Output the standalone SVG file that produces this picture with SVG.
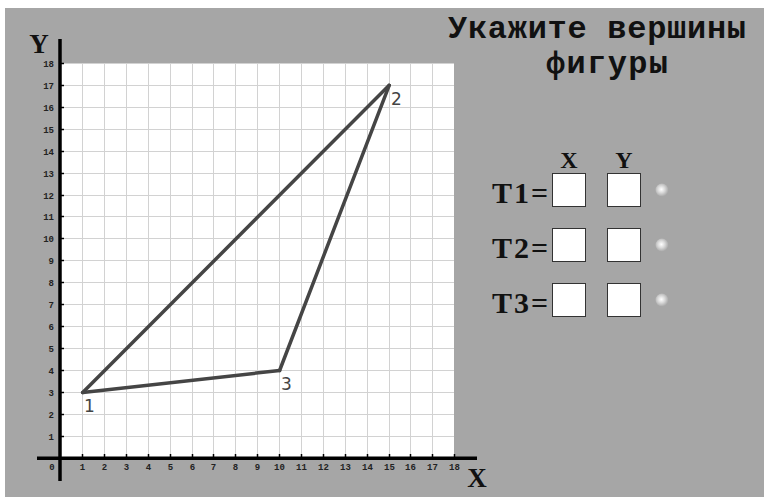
<svg xmlns="http://www.w3.org/2000/svg" width="764" height="497" viewBox="0 0 764 497">
<style>
.grid line{stroke:#d2d2d2;stroke-width:1}
.axis{stroke:#000;stroke-width:3.5;stroke-linecap:butt}
.tick{stroke:#000;stroke-width:1.5}
.tl{font-family:"Liberation Mono","Courier New",monospace;font-size:9px;font-weight:bold;fill:#222}
.tly{text-anchor:end}
.tlx{text-anchor:middle}
.big{font-family:"Liberation Serif","Times New Roman",serif;font-weight:bold;fill:#111}
.mono{font-family:"Liberation Mono","Courier New",monospace;font-weight:bold;fill:#111}
.edge{stroke:#454545;stroke-width:3.5;fill:none;stroke-linecap:round;stroke-linejoin:round}
.vl{font-family:"DejaVu Sans",Verdana,sans-serif;font-size:17px;fill:#444}
.box{fill:#fff;stroke:#333;stroke-width:1}
</style>
<defs>
<radialGradient id="dot" cx="0.45" cy="0.45" r="0.55">
<stop offset="0" stop-color="#ffffff"/>
<stop offset="0.5" stop-color="#d8d8d8"/>
<stop offset="1" stop-color="#a8a8a8"/>
</radialGradient>
</defs>
<rect x="0" y="0" width="764" height="497" fill="#fff"/>
<rect x="5" y="8" width="759" height="489" fill="#a6a6a6"/>
<rect x="61" y="63" width="393" height="395" fill="#fff"/>
<g class="grid">
<line x1="82.5" y1="63" x2="82.5" y2="458"/><line x1="104.5" y1="63" x2="104.5" y2="458"/><line x1="126.5" y1="63" x2="126.5" y2="458"/><line x1="148.5" y1="63" x2="148.5" y2="458"/><line x1="170.5" y1="63" x2="170.5" y2="458"/><line x1="192.5" y1="63" x2="192.5" y2="458"/><line x1="213.5" y1="63" x2="213.5" y2="458"/><line x1="235.5" y1="63" x2="235.5" y2="458"/><line x1="257.5" y1="63" x2="257.5" y2="458"/><line x1="279.5" y1="63" x2="279.5" y2="458"/><line x1="301.5" y1="63" x2="301.5" y2="458"/><line x1="323.5" y1="63" x2="323.5" y2="458"/><line x1="345.5" y1="63" x2="345.5" y2="458"/><line x1="367.5" y1="63" x2="367.5" y2="458"/><line x1="389.5" y1="63" x2="389.5" y2="458"/><line x1="410.5" y1="63" x2="410.5" y2="458"/><line x1="432.5" y1="63" x2="432.5" y2="458"/>
<line x1="61" y1="436.5" x2="454" y2="436.5"/><line x1="61" y1="414.5" x2="454" y2="414.5"/><line x1="61" y1="392.5" x2="454" y2="392.5"/><line x1="61" y1="370.5" x2="454" y2="370.5"/><line x1="61" y1="348.5" x2="454" y2="348.5"/><line x1="61" y1="326.5" x2="454" y2="326.5"/><line x1="61" y1="304.5" x2="454" y2="304.5"/><line x1="61" y1="282.5" x2="454" y2="282.5"/><line x1="61" y1="260.5" x2="454" y2="260.5"/><line x1="61" y1="238.5" x2="454" y2="238.5"/><line x1="61" y1="216.5" x2="454" y2="216.5"/><line x1="61" y1="195.5" x2="454" y2="195.5"/><line x1="61" y1="173.5" x2="454" y2="173.5"/><line x1="61" y1="151.5" x2="454" y2="151.5"/><line x1="61" y1="129.5" x2="454" y2="129.5"/><line x1="61" y1="107.5" x2="454" y2="107.5"/><line x1="61" y1="85.5" x2="454" y2="85.5"/><line x1="61" y1="63.5" x2="454" y2="63.5"/>
</g>
<g id="axes">
<line class="axis" x1="60" y1="39" x2="60" y2="481"/>
<line class="axis" x1="37" y1="458.3" x2="477" y2="458.3"/>
<g class="tick">
<line x1="60" y1="436.5" x2="64" y2="436.5"/><line x1="60" y1="414.5" x2="64" y2="414.5"/><line x1="60" y1="392.5" x2="64" y2="392.5"/><line x1="60" y1="370.5" x2="64" y2="370.5"/><line x1="60" y1="348.5" x2="64" y2="348.5"/><line x1="60" y1="326.5" x2="64" y2="326.5"/><line x1="60" y1="304.5" x2="64" y2="304.5"/><line x1="60" y1="282.5" x2="64" y2="282.5"/><line x1="60" y1="260.5" x2="64" y2="260.5"/><line x1="60" y1="238.5" x2="64" y2="238.5"/><line x1="60" y1="216.5" x2="64" y2="216.5"/><line x1="60" y1="195.5" x2="64" y2="195.5"/><line x1="60" y1="173.5" x2="64" y2="173.5"/><line x1="60" y1="151.5" x2="64" y2="151.5"/><line x1="60" y1="129.5" x2="64" y2="129.5"/><line x1="60" y1="107.5" x2="64" y2="107.5"/><line x1="60" y1="85.5" x2="64" y2="85.5"/><line x1="60" y1="63.5" x2="64" y2="63.5"/>
<line x1="82.5" y1="454" x2="82.5" y2="458"/><line x1="104.5" y1="454" x2="104.5" y2="458"/><line x1="126.5" y1="454" x2="126.5" y2="458"/><line x1="148.5" y1="454" x2="148.5" y2="458"/><line x1="170.5" y1="454" x2="170.5" y2="458"/><line x1="192.5" y1="454" x2="192.5" y2="458"/><line x1="213.5" y1="454" x2="213.5" y2="458"/><line x1="235.5" y1="454" x2="235.5" y2="458"/><line x1="257.5" y1="454" x2="257.5" y2="458"/><line x1="279.5" y1="454" x2="279.5" y2="458"/><line x1="301.5" y1="454" x2="301.5" y2="458"/><line x1="323.5" y1="454" x2="323.5" y2="458"/><line x1="345.5" y1="454" x2="345.5" y2="458"/><line x1="367.5" y1="454" x2="367.5" y2="458"/><line x1="389.5" y1="454" x2="389.5" y2="458"/><line x1="410.5" y1="454" x2="410.5" y2="458"/><line x1="432.5" y1="454" x2="432.5" y2="458"/><line x1="454.5" y1="454" x2="454.5" y2="458"/>
</g>
<g class="tl tly">
<text x="54" y="439.5">1</text><text x="54" y="417.5">2</text><text x="54" y="395.5">3</text><text x="54" y="373.5">4</text><text x="54" y="351.5">5</text><text x="54" y="329.5">6</text><text x="54" y="307.5">7</text><text x="54" y="285.5">8</text><text x="54" y="263.5">9</text><text x="54" y="241.5">10</text><text x="54" y="219.5">11</text><text x="54" y="198.5">12</text><text x="54" y="176.5">13</text><text x="54" y="154.5">14</text><text x="54" y="132.5">15</text><text x="54" y="110.5">16</text><text x="54" y="88.5">17</text><text x="54" y="66.5">18</text>
</g>
<g class="tl tlx">
<text x="52" y="470">0</text><text x="82.5" y="470">1</text><text x="104.5" y="470">2</text><text x="126.5" y="470">3</text><text x="148.5" y="470">4</text><text x="170.5" y="470">5</text><text x="192.5" y="470">6</text><text x="213.5" y="470">7</text><text x="235.5" y="470">8</text><text x="257.5" y="470">9</text><text x="279.5" y="470">10</text><text x="301.5" y="470">11</text><text x="323.5" y="470">12</text><text x="345.5" y="470">13</text><text x="367.5" y="470">14</text><text x="389.5" y="470">15</text><text x="410.5" y="470">16</text><text x="432.5" y="470">17</text><text x="454.5" y="470">18</text>
</g>
<text class="big" x="39" y="53" font-size="27" text-anchor="middle">Y</text>
<text class="big" x="477" y="487" font-size="27" text-anchor="middle">X</text>
</g>
<g id="connectors">
<line class="edge" x1="82.7" y1="392.5" x2="389.2" y2="85.3"/>
<line class="edge" x1="389.2" y1="85.3" x2="279.6" y2="370.5"/>
<line class="edge" x1="279.6" y1="370.5" x2="82.7" y2="392.5"/>
</g>
<g id="vertex1"><text class="vl" x="84" y="412">1</text></g>
<g id="vertex2"><text class="vl" x="391" y="105">2</text></g>
<g id="vertex3"><text class="vl" x="281" y="390">3</text></g>
<g id="title">
<text class="mono" x="448" y="38" font-size="32" textLength="298" lengthAdjust="spacing">Укажите вершины</text>
<text class="mono" x="546" y="73" font-size="32" textLength="122" lengthAdjust="spacing">фигуры</text>
</g>
<g id="form">
<text class="big" x="569" y="168" font-size="24" text-anchor="middle">X</text>
<text class="big" x="624" y="168" font-size="24" text-anchor="middle">Y</text>
<g id="row1">
<text class="big" x="492" y="203" font-size="30" textLength="56" lengthAdjust="spacing">T1=</text>
<rect class="box" x="552.5" y="173.5" width="33" height="33"/>
<rect class="box" x="607.5" y="173.5" width="33" height="33"/>
<circle cx="662" cy="190" r="6.5" fill="url(#dot)"/>
</g>
<g id="row2">
<text class="big" x="492" y="258" font-size="30" textLength="56" lengthAdjust="spacing">T2=</text>
<rect class="box" x="552.5" y="228.5" width="33" height="33"/>
<rect class="box" x="607.5" y="228.5" width="33" height="33"/>
<circle cx="662" cy="245" r="6.5" fill="url(#dot)"/>
</g>
<g id="row3">
<text class="big" x="492" y="313" font-size="30" textLength="56" lengthAdjust="spacing">T3=</text>
<rect class="box" x="552.5" y="283.5" width="33" height="33"/>
<rect class="box" x="607.5" y="283.5" width="33" height="33"/>
<circle cx="662" cy="300" r="6.5" fill="url(#dot)"/>
</g>
</g>
</svg>
